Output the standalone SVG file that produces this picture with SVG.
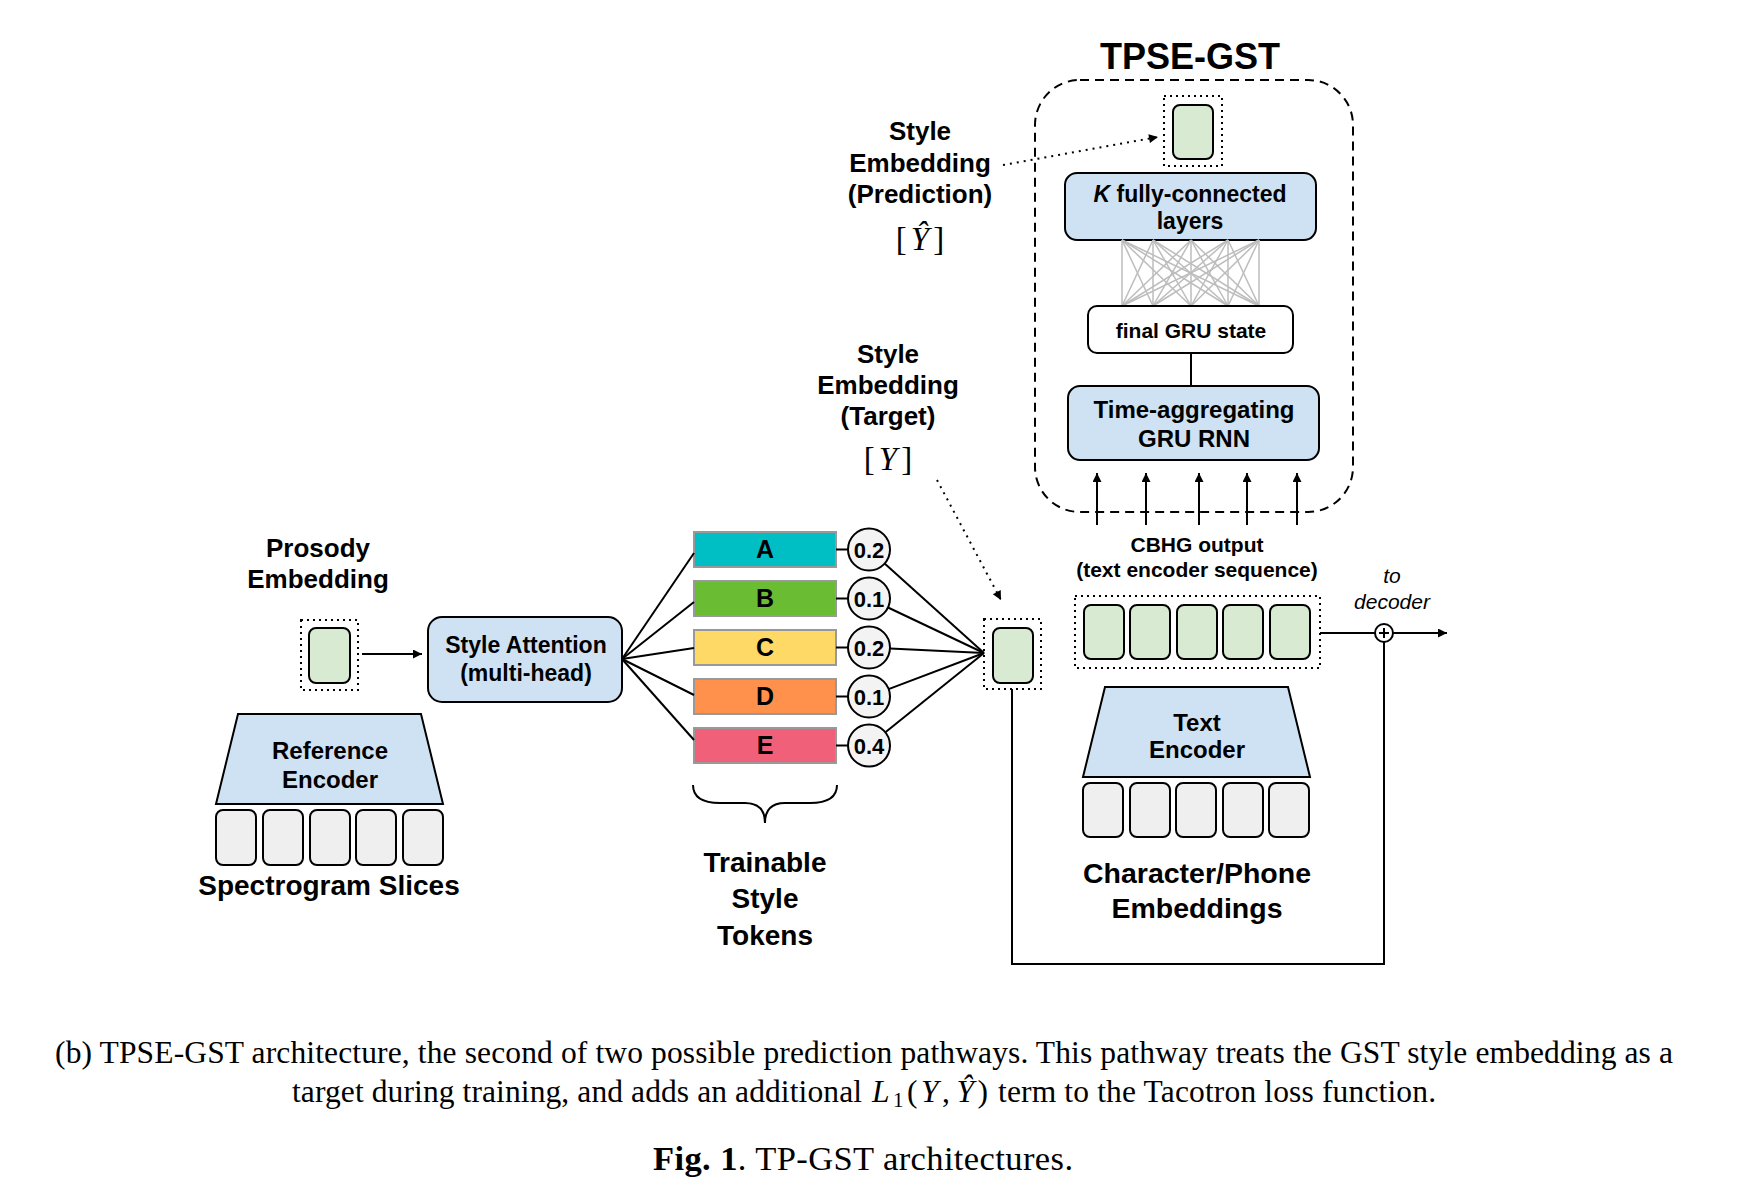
<svg xmlns="http://www.w3.org/2000/svg" width="1740" height="1192" viewBox="0 0 1740 1192">
<defs>
<style>
.lbl{font-family:"Liberation Sans",Arial,Helvetica,sans-serif;font-weight:bold;fill:#000;text-anchor:middle}
.it{font-family:"Liberation Sans",Arial,Helvetica,sans-serif;font-style:italic;fill:#000;text-anchor:middle}
.math{font-family:"Liberation Serif","Times New Roman",serif;fill:#000;text-anchor:middle}
.cap{font-family:"Liberation Serif","Times New Roman",serif;fill:#000}
.box{stroke:#000;stroke-width:2}
.blue{fill:#cfe2f3}
.green{fill:#d9ead3}
.grey{fill:#efefef}
.white{fill:#fff}
.dotf{fill:none;stroke:#000;stroke-width:2;stroke-dasharray:2 4}
.ln{stroke:#000;stroke-width:2;fill:none}
.dotl{stroke:#000;stroke-width:2;fill:none;stroke-dasharray:2 5}
.mesh{stroke:#bdbdbd;stroke-width:1.5}
.tok{stroke:#999;stroke-width:2}
.circ{fill:#f3f3f3;stroke:#000;stroke-width:2}
</style>
<marker id="ah" viewBox="0 0 10 10" refX="10" refY="5" markerUnits="userSpaceOnUse" markerWidth="11" markerHeight="9" orient="auto">
<path d="M0,0 L10,5 L0,10 z" fill="#000"/>
</marker>
</defs>
<rect width="1740" height="1192" fill="#fff"/>

<g id="tpse-gst">
<text class="lbl" x="1190" y="69" font-size="36">TPSE-GST</text>
<rect x="1035" y="80" width="318" height="432" rx="45" fill="none" stroke="#000" stroke-width="2" stroke-dasharray="9 6"/>
</g>

<g id="pred-embedding">
<rect class="dotf" x="1164" y="96" width="58" height="70"/>
<rect class="box green" x="1173" y="105" width="40" height="54" rx="7"/>
</g>

<g id="fc-layers">
<rect class="box blue" x="1065" y="173" width="251" height="67" rx="12"/>
<text class="lbl" x="1190" y="202" font-size="23"><tspan font-style="italic">K</tspan> fully-connected</text>
<text class="lbl" x="1190" y="229" font-size="23">layers</text>
</g>

<g id="fc-mesh">
<line class="mesh" x1="1122" y1="240" x2="1122" y2="306"/><line class="mesh" x1="1122" y1="240" x2="1153" y2="306"/><line class="mesh" x1="1122" y1="240" x2="1191" y2="306"/><line class="mesh" x1="1122" y1="240" x2="1228" y2="306"/><line class="mesh" x1="1122" y1="240" x2="1259" y2="306"/>
<line class="mesh" x1="1153" y1="240" x2="1122" y2="306"/><line class="mesh" x1="1153" y1="240" x2="1153" y2="306"/><line class="mesh" x1="1153" y1="240" x2="1191" y2="306"/><line class="mesh" x1="1153" y1="240" x2="1228" y2="306"/><line class="mesh" x1="1153" y1="240" x2="1259" y2="306"/>
<line class="mesh" x1="1191" y1="240" x2="1122" y2="306"/><line class="mesh" x1="1191" y1="240" x2="1153" y2="306"/><line class="mesh" x1="1191" y1="240" x2="1191" y2="306"/><line class="mesh" x1="1191" y1="240" x2="1228" y2="306"/><line class="mesh" x1="1191" y1="240" x2="1259" y2="306"/>
<line class="mesh" x1="1228" y1="240" x2="1122" y2="306"/><line class="mesh" x1="1228" y1="240" x2="1153" y2="306"/><line class="mesh" x1="1228" y1="240" x2="1191" y2="306"/><line class="mesh" x1="1228" y1="240" x2="1228" y2="306"/><line class="mesh" x1="1228" y1="240" x2="1259" y2="306"/>
<line class="mesh" x1="1259" y1="240" x2="1122" y2="306"/><line class="mesh" x1="1259" y1="240" x2="1153" y2="306"/><line class="mesh" x1="1259" y1="240" x2="1191" y2="306"/><line class="mesh" x1="1259" y1="240" x2="1228" y2="306"/><line class="mesh" x1="1259" y1="240" x2="1259" y2="306"/>
</g>

<g id="final-gru">
<rect class="box white" x="1088" y="306" width="205" height="47" rx="9"/>
<text class="lbl" x="1191" y="338" font-size="21">final GRU state</text>
</g>

<g id="gru-rnn">
<rect class="box blue" x="1068" y="386" width="251" height="74" rx="12"/>
<text class="lbl" x="1194" y="418" font-size="24">Time-aggregating</text>
<text class="lbl" x="1194" y="447" font-size="24">GRU RNN</text>
</g>

<g id="label-prediction">
<text class="lbl" x="920" y="140" font-size="26">Style</text>
<text class="lbl" x="920" y="172" font-size="26">Embedding</text>
<text class="lbl" x="920" y="203" font-size="26">(Prediction)</text>
<text class="math" x="920" y="250" font-size="33">[<tspan font-style="italic" dx="4">Ŷ</tspan><tspan dx="4">]</tspan></text>
</g>

<g id="label-target">
<text class="lbl" x="888" y="363" font-size="26">Style</text>
<text class="lbl" x="888" y="394" font-size="26">Embedding</text>
<text class="lbl" x="888" y="425" font-size="26">(Target)</text>
<text class="math" x="888" y="470" font-size="33">[<tspan font-style="italic" dx="4">Y</tspan><tspan dx="4">]</tspan></text>
</g>

<g id="prosody-label">
<text class="lbl" x="318" y="557" font-size="26">Prosody</text>
<text class="lbl" x="318" y="588" font-size="26">Embedding</text>
</g>

<g id="prosody-embedding">
<rect class="dotf" x="301" y="620" width="57" height="70"/>
<rect class="box green" x="309" y="628" width="41" height="55" rx="7"/>
</g>

<g id="style-attention">
<rect class="box blue" x="428" y="617" width="194" height="85" rx="14"/>
<text class="lbl" x="526" y="653" font-size="23">Style Attention</text>
<text class="lbl" x="526" y="681" font-size="23">(multi-head)</text>
</g>

<g id="reference-encoder">
<path class="box blue" d="M238,714 L421,714 L443,804 L216,804 Z"/>
<text class="lbl" x="330" y="759" font-size="24">Reference</text>
<text class="lbl" x="330" y="788" font-size="24">Encoder</text>
</g>

<g id="spectrogram-slices">
<rect class="box grey" x="216" y="810" width="40" height="55" rx="7"/>
<rect class="box grey" x="263" y="810" width="40" height="55" rx="7"/>
<rect class="box grey" x="310" y="810" width="40" height="55" rx="7"/>
<rect class="box grey" x="356" y="810" width="40" height="55" rx="7"/>
<rect class="box grey" x="403" y="810" width="40" height="55" rx="7"/>
<text class="lbl" x="329" y="895" font-size="28">Spectrogram Slices</text>
</g>

<g id="token-A"><rect class="tok" x="694" y="532" width="142" height="35" fill="#00bfc4"/><text class="lbl" x="765" y="558" font-size="25">A</text></g>
<g id="token-B"><rect class="tok" x="694" y="581" width="142" height="35" fill="#6abd33"/><text class="lbl" x="765" y="607" font-size="25">B</text></g>
<g id="token-C"><rect class="tok" x="694" y="630" width="142" height="35" fill="#ffd966"/><text class="lbl" x="765" y="656" font-size="25">C</text></g>
<g id="token-D"><rect class="tok" x="694" y="679" width="142" height="35" fill="#ff914d"/><text class="lbl" x="765" y="705" font-size="25">D</text></g>
<g id="token-E"><rect class="tok" x="694" y="728" width="142" height="35" fill="#f06079"/><text class="lbl" x="765" y="754" font-size="25">E</text></g>

<g id="weight-A"><circle class="circ" cx="869" cy="549.5" r="21"/><text class="lbl" x="869" y="557.5" font-size="22">0.2</text></g>
<g id="weight-B"><circle class="circ" cx="869" cy="598.5" r="21"/><text class="lbl" x="869" y="606.5" font-size="22">0.1</text></g>
<g id="weight-C"><circle class="circ" cx="869" cy="647.5" r="21"/><text class="lbl" x="869" y="655.5" font-size="22">0.2</text></g>
<g id="weight-D"><circle class="circ" cx="869" cy="696.5" r="21"/><text class="lbl" x="869" y="704.5" font-size="22">0.1</text></g>
<g id="weight-E"><circle class="circ" cx="869" cy="745.5" r="21"/><text class="lbl" x="869" y="753.5" font-size="22">0.4</text></g>

<g id="tokens-label">
<path class="ln" d="M693,785 Q693,803 720,803 L745,803 Q765,803 765,823 Q765,803 785,803 L810,803 Q837,803 837,785"/>
<text class="lbl" x="765" y="872" font-size="28">Trainable</text>
<text class="lbl" x="765" y="908" font-size="28">Style</text>
<text class="lbl" x="765" y="945" font-size="28">Tokens</text>
</g>

<g id="target-embedding">
<rect class="dotf" x="984" y="619" width="57" height="70"/>
<rect class="box green" x="993" y="628" width="40" height="55" rx="7"/>
</g>

<g id="cbhg-output">
<text class="lbl" x="1197" y="552" font-size="21">CBHG output</text>
<text class="lbl" x="1197" y="577" font-size="21">(text encoder sequence)</text>
<rect class="dotf" x="1075" y="596" width="245" height="72"/>
<rect class="box green" x="1084" y="605" width="40" height="54" rx="7"/>
<rect class="box green" x="1130" y="605" width="40" height="54" rx="7"/>
<rect class="box green" x="1177" y="605" width="40" height="54" rx="7"/>
<rect class="box green" x="1223" y="605" width="40" height="54" rx="7"/>
<rect class="box green" x="1270" y="605" width="40" height="54" rx="7"/>
</g>

<g id="text-encoder">
<path class="box blue" d="M1105,687 L1288,687 L1310,777 L1083,777 Z"/>
<text class="lbl" x="1197" y="731" font-size="24">Text</text>
<text class="lbl" x="1197" y="758" font-size="24">Encoder</text>
</g>

<g id="char-embeddings">
<rect class="box grey" x="1083" y="783" width="40" height="54" rx="7"/>
<rect class="box grey" x="1130" y="783" width="40" height="54" rx="7"/>
<rect class="box grey" x="1176" y="783" width="40" height="54" rx="7"/>
<rect class="box grey" x="1223" y="783" width="40" height="54" rx="7"/>
<rect class="box grey" x="1269" y="783" width="40" height="54" rx="7"/>
<text class="lbl" x="1197" y="883" font-size="28.5">Character/Phone</text>
<text class="lbl" x="1197" y="918" font-size="28.5">Embeddings</text>
</g>

<g id="sum-node">
<circle cx="1384" cy="633" r="9" fill="#fff" stroke="#000" stroke-width="2"/>
<line x1="1379" y1="633" x2="1389" y2="633" stroke="#000" stroke-width="2"/>
<line x1="1384" y1="628" x2="1384" y2="638" stroke="#000" stroke-width="2"/>
<text class="it" x="1392" y="583" font-size="21">to</text>
<text class="it" x="1392" y="609" font-size="21">decoder</text>
</g>

<g id="connectors">
<line class="ln" x1="362" y1="654" x2="422" y2="654" marker-end="url(#ah)"/>
<line class="ln" x1="622" y1="659" x2="694" y2="553"/>
<line class="ln" x1="622" y1="659" x2="694" y2="602"/>
<line class="ln" x1="622" y1="659" x2="694" y2="648"/>
<line class="ln" x1="622" y1="659" x2="694" y2="695"/>
<line class="ln" x1="622" y1="659" x2="694" y2="740"/>
<line class="ln" x1="836" y1="549.5" x2="848" y2="549.5"/>
<line class="ln" x1="836" y1="598.5" x2="848" y2="598.5"/>
<line class="ln" x1="836" y1="647.5" x2="848" y2="647.5"/>
<line class="ln" x1="836" y1="696.5" x2="848" y2="696.5"/>
<line class="ln" x1="836" y1="745.5" x2="848" y2="745.5"/>
<line class="ln" x1="884.6" y1="563.6" x2="984" y2="653"/>
<line class="ln" x1="888" y1="607.5" x2="984" y2="653"/>
<line class="ln" x1="890" y1="648.5" x2="984" y2="653"/>
<line class="ln" x1="888.6" y1="689.1" x2="984" y2="653"/>
<line class="ln" x1="885.4" y1="732.3" x2="984" y2="653"/>
<path class="dotl" d="M937,480 L1001,600" marker-end="url(#ah)"/>
<path class="dotl" d="M1003,165 L1158,137" marker-end="url(#ah)"/>
<line class="ln" x1="1191" y1="353" x2="1191" y2="386"/>
<line class="ln" x1="1097" y1="525" x2="1097" y2="473" marker-end="url(#ah)"/>
<line class="ln" x1="1146" y1="525" x2="1146" y2="473" marker-end="url(#ah)"/>
<line class="ln" x1="1199" y1="525" x2="1199" y2="473" marker-end="url(#ah)"/>
<line class="ln" x1="1247" y1="525" x2="1247" y2="473" marker-end="url(#ah)"/>
<line class="ln" x1="1297" y1="525" x2="1297" y2="473" marker-end="url(#ah)"/>
<line class="ln" x1="1320" y1="633" x2="1375" y2="633"/>
<line class="ln" x1="1393" y1="633" x2="1447" y2="633" marker-end="url(#ah)"/>
<path class="ln" d="M1012,689 L1012,964 L1384,964 L1384,642"/>
</g>

<g id="caption">
<text class="cap" x="55" y="1063" font-size="31.5" textLength="1618">(b) TPSE-GST architecture, the second of two possible prediction pathways. This pathway treats the GST style embedding as a</text>
<text class="cap" x="292" y="1102" font-size="31.5" textLength="570">target during training, and adds an additional</text>
<text class="cap" x="872" y="1102" font-size="31.5" textLength="116"><tspan font-style="italic">L</tspan><tspan font-size="21" dy="5">1</tspan><tspan dy="-5">(</tspan><tspan font-style="italic">Y</tspan>,<tspan font-style="italic" dx="3">Ŷ</tspan>)</text>
<text class="cap" x="998" y="1102" font-size="31.5" textLength="438">term to the Tacotron loss function.</text>
<text class="cap" x="653" y="1170" font-size="34.5" textLength="420"><tspan font-weight="bold">Fig. 1</tspan>. TP-GST architectures.</text>
</g>
</svg>
